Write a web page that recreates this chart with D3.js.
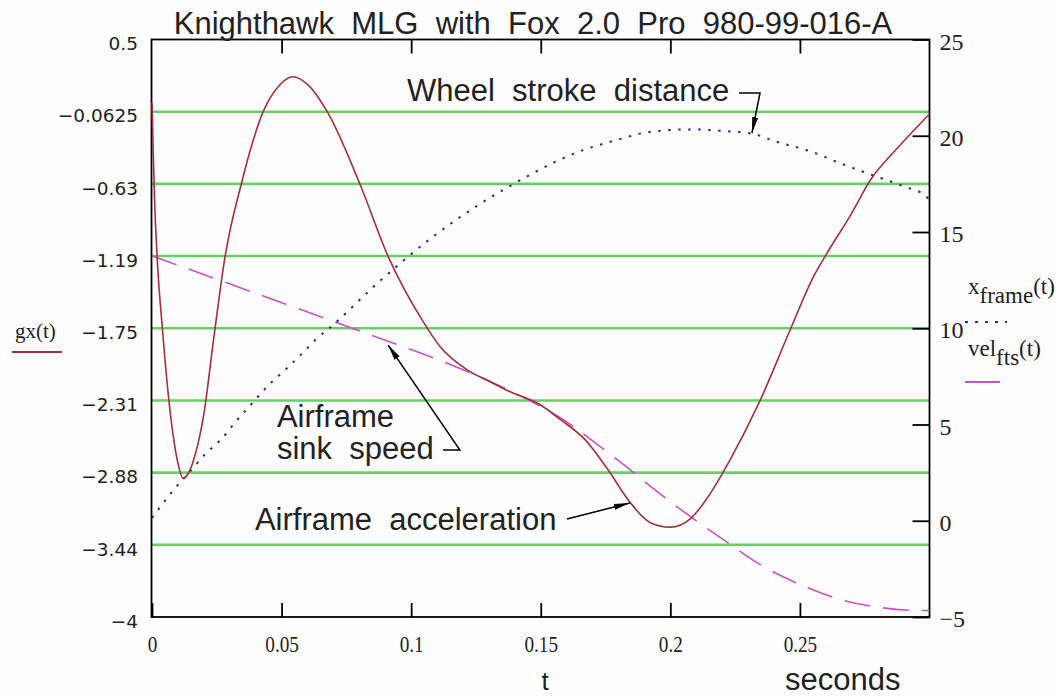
<!DOCTYPE html>
<html><head><meta charset="utf-8">
<script src="https://cdn.jsdelivr.net/npm/d3@7"></script>
<style>
body{margin:0;background:#fff;}
svg{display:block;}
text{white-space:pre;}
</style></head>
<body>
<script>
// ---- data ----
const tRed  = [0,0.0005,0.001,0.002,0.004,0.007,0.010,0.012,0.014,0.016,0.020,0.024,0.0282,0.0344,0.0429,0.049,0.0544,0.060,0.0676,0.0803,0.0911,0.1042,0.1112,0.1216,0.1305,0.1382,0.1498,0.1575,0.1672,0.1757,0.1846,0.1923,0.2000,0.2077,0.2150,0.2232,0.2347,0.2463,0.2552,0.2606,0.2695,0.2772,0.2888,0.3];
const gxVals = [0.01,-0.40,-0.75,-1.20,-1.75,-2.40,-2.80,-2.92,-2.88,-2.78,-2.42,-1.80,-1.19,-0.63,-0.0625,0.14,0.21,0.15,-0.0625,-0.63,-1.19,-1.685,-1.894,-2.074,-2.167,-2.245,-2.346,-2.46,-2.62,-2.845,-3.11,-3.265,-3.30,-3.235,-3.05,-2.77,-2.31,-1.76,-1.35,-1.16,-0.87,-0.595,-0.32,-0.08];

const tFrame = [0,0.0027,0.0082,0.0147,0.0207,0.0269,0.0327,0.0385,0.0445,0.0514,0.0578,0.0638,0.0677,0.088,0.1073,0.1266,0.1434,0.1549,0.1665,0.1794,0.1923,0.2077,0.2193,0.2320,0.2409,0.2537,0.2656,0.2779,0.2903,0.2985,0.3];
const xFrameVals = [0.15,0.63,1.58,2.57,3.48,4.26,5.21,6.08,6.98,7.84,8.67,9.49,9.92,12.46,14.64,16.46,17.79,18.60,19.26,19.78,20.21,20.33,20.26,20.09,19.69,19.21,18.57,17.96,17.36,16.87,16.65];

const tVel = [0,0.0927,0.1085,0.1228,0.1382,0.1575,0.1795,0.2000,0.2104,0.2232,0.2347,0.2502,0.2656,0.2811,0.2965,0.3];
const velVals = [13.76,9.245,8.47,7.69,6.75,5.35,3.17,0.99,-0.04,-1.24,-2.28,-3.32,-4.09,-4.51,-4.66,-4.66];

const leftTicks = [0.5,-0.0625,-0.625,-1.1875,-1.75,-2.3125,-2.875,-3.4375,-4];
const leftTickLabels = ["0.5","\u22120.0625","\u22120.63","\u22121.19","\u22121.75","\u22122.31","\u22122.88","\u22123.44","\u22124"];
const rightTicks = [25,20,15,10,5,0,-5];
const rightTickLabels = ["25","20","15","10","5","0","\u22125"];
const xTicks = [0,0.05,0.1,0.15,0.2,0.25];
const xTickLabels = ["0","0.05","0.1","0.15","0.2","0.25"];

const titleText = "Knighthawk  MLG  with  Fox  2.0  Pro  980-99-016-A";
// annotations (positions in data units: t, gx)
const notes = [
  {lines:["Wheel  stroke  distance"], t:0.0984, g:0.021},
  {lines:["Airframe","sink  speed"], t:0.0482, g:-2.52},
  {lines:["Airframe  acceleration"], t:0.0397, g:-3.322}
];
const arrows = [
  [[0.2265,0.083],[0.2346,0.083],[0.2315,-0.2286]],
  [[0.1123,-2.699],[0.1188,-2.699],[0.0911,-1.881]],
  [[0.1601,-3.236],[0.1844,-3.112]]
];

// ---- drawing ----
const W=1057,H=696;
const L=152,R=929.5,T=39.5,B=617;
const svg=d3.select("body").append("svg").attr("width",W).attr("height",H);
svg.append("rect").attr("width",W).attr("height",H).attr("fill","#fdfdfd");

const x=d3.scaleLinear().domain([0,0.3]).range([L,R]);
const yL=d3.scaleLinear().domain([-4,0.5]).range([B,T]);
const yR=d3.scaleLinear().domain([-5,25]).range([B,T]);

// green grid lines
svg.append("g").selectAll("line").data(leftTicks.slice(1,-1)).join("line")
  .attr("x1",L).attr("x2",R).attr("y1",d=>yL(d)).attr("y2",d=>yL(d))
  .attr("stroke","#66d066").attr("stroke-width",2.6);

// frame
svg.append("rect").attr("x",L-0.5).attr("y",T).attr("width",R-L+0.5).attr("height",B-T)
  .attr("fill","none").attr("stroke","#000").attr("stroke-width",1.8);

// left axis labels
const ax1=svg.append("g").attr("transform",`translate(${L},0)`)
  .call(d3.axisLeft(yL).tickValues(leftTicks).tickFormat((d,i)=>leftTickLabels[i]).tickSize(0).tickPadding(14));
ax1.select(".domain").remove();
ax1.selectAll("text").attr("font-family","DejaVu Sans").attr("font-size",18.5).attr("fill","#222").attr("dy","0.55em");

// right axis
const ax2=svg.append("g").attr("transform",`translate(${R},0)`)
  .call(d3.axisRight(yR).tickValues(rightTicks).tickFormat((d,i)=>rightTickLabels[i]).tickSize(-17).tickPadding(10));
ax2.select(".domain").remove();
ax2.selectAll("line").attr("stroke","#000").attr("stroke-width",1.8);
ax2.selectAll("text").attr("font-family","Liberation Serif").attr("font-size",24).attr("fill","#222").attr("dy","0.4em");

// bottom axis
const ax3=svg.append("g").attr("transform",`translate(0,${B})`)
  .call(d3.axisBottom(x).tickValues(xTicks).tickFormat((d,i)=>xTickLabels[i]).tickSize(-14).tickPadding(18));
ax3.select(".domain").remove();
ax3.selectAll("line").attr("stroke","#000").attr("stroke-width",1.8);
ax3.selectAll("text").attr("font-family","Liberation Serif").attr("font-size",24).attr("fill","#222")
  .attr("transform","scale(0.8,1)");

// top ticks
const ax4=svg.append("g").attr("transform",`translate(0,${T})`)
  .call(d3.axisTop(x).tickValues(xTicks.slice(1)).tickFormat("").tickSize(-14));
ax4.select(".domain").remove();
ax4.selectAll("line").attr("stroke","#000").attr("stroke-width",1.8);

// series
const lineRed=d3.line().x((d,i)=>x(tRed[i])).y(d=>yL(d)).curve(d3.curveMonotoneX);
const lineFrame=d3.line().x((d,i)=>x(tFrame[i])).y(d=>yR(d)).curve(d3.curveMonotoneX);
const lineVel=d3.line().x((d,i)=>x(tVel[i])).y(d=>yR(d)).curve(d3.curveMonotoneX);

svg.append("path").attr("d",lineVel(velVals)).attr("fill","none")
  .attr("stroke","#c850c8").attr("stroke-width",1.6).attr("stroke-dasharray","26,13");
svg.append("path").attr("d",lineFrame(xFrameVals)).attr("fill","none")
  .attr("stroke","#2c2c8c").attr("stroke-width",2).attr("stroke-dasharray","2.5,7.5");
svg.append("path").attr("d",lineRed(gxVals)).attr("fill","none")
  .attr("stroke","#a3303a").attr("stroke-width",1.6);

// title
svg.append("text").attr("x",533).attr("y",34).attr("text-anchor","middle")
  .attr("font-family","Liberation Sans").attr("font-size",31).attr("fill","#222").text(titleText);

// annotations
const defs=svg.append("defs");
defs.append("marker").attr("id","ah").attr("viewBox","0 0 16 8").attr("refX",16).attr("refY",4)
  .attr("markerWidth",16).attr("markerHeight",8).attr("markerUnits","userSpaceOnUse").attr("orient","auto")
  .append("path").attr("d","M0,1 L16,4 L0,7 Z").attr("fill","#000");

notes.forEach(n=>{
  const tx=svg.append("text").attr("font-family","Liberation Sans").attr("font-size",31).attr("fill","#222");
  n.lines.forEach((s,i)=>tx.append("tspan").attr("x",x(n.t)).attr("y",yL(n.g)+i*32).text(s));
});
const al=d3.line().x(d=>x(d[0])).y(d=>yL(d[1]));
arrows.forEach(a=>{
  svg.append("path").attr("d",al(a)).attr("fill","none").attr("stroke","#000").attr("stroke-width",1.5)
    .attr("marker-end","url(#ah)");
});

// legends
svg.append("text").attr("x",15).attr("y",338).attr("font-family","Liberation Serif").attr("font-size",21).attr("fill","#222").text("gx(t)");
svg.append("line").attr("x1",12).attr("x2",62).attr("y1",352).attr("y2",352).attr("stroke","#a3303a").attr("stroke-width",2);

const lg1=svg.append("text").attr("x",968).attr("y",294).attr("font-family","Liberation Serif").attr("font-size",23).attr("fill","#222");
lg1.append("tspan").text("x");
lg1.append("tspan").attr("dy",9).text("frame");
lg1.append("tspan").attr("dy",-9).text("(t)");
svg.append("line").attr("x1",965).attr("x2",1007).attr("y1",322).attr("y2",322).attr("stroke","#2c2c8c").attr("stroke-width",2).attr("stroke-dasharray","3,7");

const lg2=svg.append("text").attr("x",968).attr("y",356).attr("font-family","Liberation Serif").attr("font-size",23).attr("fill","#222");
lg2.append("tspan").text("vel");
lg2.append("tspan").attr("dy",9).text("fts");
lg2.append("tspan").attr("dy",-9).text("(t)");
svg.append("line").attr("x1",965).attr("x2",1000).attr("y1",382).attr("y2",382).attr("stroke","#c850c8").attr("stroke-width",2);

// axis titles
svg.append("text").attr("x",545).attr("y",690).attr("text-anchor","middle").attr("font-family","Liberation Sans").attr("font-size",26).attr("fill","#222").text("t");
svg.append("text").attr("x",785).attr("y",690).attr("font-family","Liberation Sans").attr("font-size",31).attr("fill","#222").text("seconds");
</script>
</body></html>
